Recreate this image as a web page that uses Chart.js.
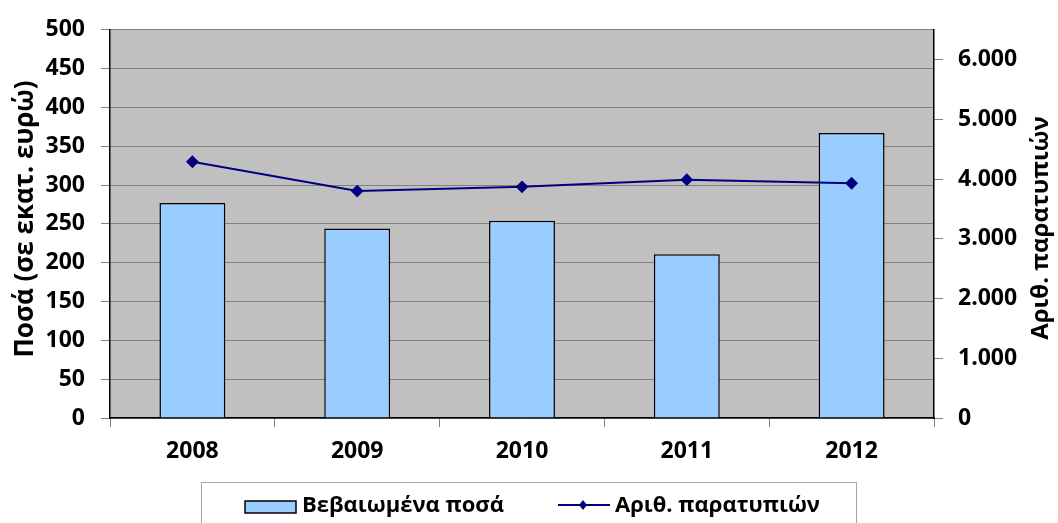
<!DOCTYPE html>
<html>
<head>
<meta charset="utf-8">
<script src="https://cdn.jsdelivr.net/npm/chart.js@4/dist/chart.umd.min.js"></script>
<style>
  html, body { margin: 0; padding: 0; background: #fff; }
  #wrap { width: 1058px; height: 523px; }
</style>
</head>
<body>
<div id="wrap"><canvas id="irregChart" width="1058" height="523"></canvas></div>
<script>
const years = ["2008", "2009", "2010", "2011", "2012"];
const amounts = [277, 244, 254, 211, 367];
const irregularities = [4290, 3800, 3870, 3990, 3930];
const countTicks = [0, 1000, 2000, 3000, 4000, 5000, 6000];

const amountLabel = "Βεβαιωμένα ποσά";
const countLabel = "Αριθ. παρατυπιών";
const leftTitle = "Ποσά (σε εκατ. ευρώ)";

const FONT = "'Open Sans', 'DejaVu Sans', sans-serif";
const BAR_FILL = "#99ccff";
const LINE_COLOR = "#000080";

const fmtThousands = (v) => String(v).replace(/\B(?=(\d{3})+(?!\d))/g, ".");

// grey plot area, axis titles and the framed legend
const decor = {
  id: "decor",
  beforeDraw(chart) {
    const { ctx, chartArea: a } = chart;
    ctx.save();
    ctx.fillStyle = "#c0c0c0";
    ctx.fillRect(a.left, a.top, a.right - a.left, a.bottom - a.top);
    ctx.restore();
  },
  afterDraw(chart) {
    const { ctx } = chart;
    ctx.save();
    ctx.fillStyle = "#000";
    ctx.textAlign = "center";
    ctx.textBaseline = "middle";

    ctx.save();
    ctx.font = "bold 26px " + FONT;
    ctx.translate(26, 219);
    ctx.rotate(-Math.PI / 2);
    ctx.fillText(leftTitle, 0, 0);
    ctx.restore();

    ctx.save();
    ctx.font = "bold 24px " + FONT;
    ctx.translate(1041, 228);
    ctx.rotate(-Math.PI / 2);
    ctx.fillText(countLabel, 0, 0);
    ctx.restore();

    // legend frame
    ctx.strokeStyle = "#a6a6a6";
    ctx.lineWidth = 1;
    ctx.strokeRect(201.5, 482.5, 655, 60);

    // bar swatch
    ctx.fillStyle = BAR_FILL;
    ctx.fillRect(245, 501, 51, 12);
    ctx.strokeStyle = "#000";
    ctx.lineWidth = 1.5;
    ctx.strokeRect(245, 501, 51, 12);

    // line swatch
    ctx.strokeStyle = LINE_COLOR;
    ctx.lineWidth = 2;
    ctx.beginPath();
    ctx.moveTo(558, 505);
    ctx.lineTo(610, 505);
    ctx.stroke();
    ctx.fillStyle = LINE_COLOR;
    ctx.beginPath();
    ctx.moveTo(583, 500);
    ctx.lineTo(587, 505);
    ctx.lineTo(583, 510);
    ctx.lineTo(579, 505);
    ctx.closePath();
    ctx.fill();

    ctx.fillStyle = "#000";
    ctx.font = "bold 22px " + FONT;
    ctx.textAlign = "left";
    ctx.fillText(amountLabel, 302, 506);
    ctx.fillText(countLabel, 615, 506);
    ctx.restore();
  },
};

const tickFont = { family: FONT, size: 23, weight: "bold" };

new Chart(document.getElementById("irregChart"), {
  type: "bar",
  data: {
    labels: years,
    datasets: [
      {
        type: "line",
        label: countLabel,
        data: irregularities,
        yAxisID: "y1",
        borderColor: LINE_COLOR,
        backgroundColor: LINE_COLOR,
        borderWidth: 2,
        pointStyle: "rectRot",
        pointRadius: 5,
        pointBackgroundColor: LINE_COLOR,
        pointBorderColor: LINE_COLOR,
        tension: 0,
        order: 0,
      },
      {
        label: amountLabel,
        data: amounts,
        yAxisID: "y",
        backgroundColor: BAR_FILL,
        borderColor: "#000",
        borderWidth: 1.5,
        barPercentage: 0.4,
        categoryPercentage: 1.0,
        order: 1,
      },
    ],
  },
  options: {
    responsive: false,
    animation: false,
    layout: { padding: { top: 28, left: 0, right: 0, bottom: 0 } },
    plugins: {
      legend: { display: false },
      tooltip: { enabled: false },
    },
    scales: {
      x: {
        grid: {
          offset: true,
          drawOnChartArea: false,
          tickLength: 9,
          tickColor: "#808080",
        },
        border: { color: "#000", width: 1.5 },
        ticks: { color: "#000", font: tickFont, padding: 11 },
        afterFit: (s) => { s.height = 105; },
      },
      y: {
        position: "left",
        min: 0,
        max: 500,
        ticks: { stepSize: 50, color: "#000", font: tickFont, padding: 16 },
        grid: { color: "#808080", tickLength: 9, tickColor: "#808080" },
        border: { color: "#000", width: 1.5 },
        afterFit: (s) => { s.width = 110; },
      },
      y1: {
        position: "right",
        min: 0,
        max: 6500,
        afterBuildTicks: (s) => { s.ticks = countTicks.map((v) => ({ value: v })); },
        ticks: {
          color: "#000",
          font: tickFont,
          padding: 15,
          callback: (v) => fmtThousands(v),
        },
        grid: { drawOnChartArea: false, tickLength: 9, tickColor: "#808080" },
        border: { color: "#000", width: 1.5 },
        afterFit: (s) => { s.width = 124; },
      },
    },
  },
  plugins: [decor],
});
</script>
</body>
</html>
